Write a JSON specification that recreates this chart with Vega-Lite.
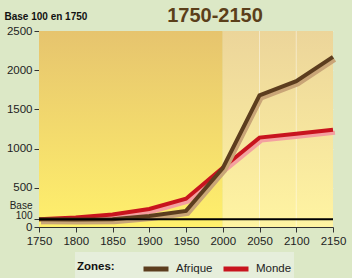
{
  "$schema": "https://vega.github.io/schema/vega-lite/v6.json",
  "width": 294,
  "height": 196,
  "autosize": "none",
  "padding": {"left": 39, "top": 31, "right": 19, "bottom": 51},
  "background": "#dce8c6",
  "config": {
    "view": {"stroke": null},
    "font": "Liberation Sans",
    "axis": {"labelFont": "Liberation Sans", "labelFontSize": 11, "labelColor": "#222222", "domainColor": "#333333", "tickColor": "#333333", "tickSize": 5, "labelOverlap": false, "labelBound": false, "labelFlush": false}
  },
  "title": {"text": "1750-2150", "fontSize": 20, "fontWeight": "bold", "color": "#5b3f1a", "anchor": "middle", "dx": 29, "dy": 20, "offset": 5, "font": "Liberation Sans"},
  "datasets": {
    "series": [
      {"year": 1750, "zone": "Afrique", "value": 100},
      {"year": 1800, "zone": "Afrique", "value": 95},
      {"year": 1850, "zone": "Afrique", "value": 100},
      {"year": 1900, "zone": "Afrique", "value": 140},
      {"year": 1950, "zone": "Afrique", "value": 205},
      {"year": 2000, "zone": "Afrique", "value": 750},
      {"year": 2050, "zone": "Afrique", "value": 1680},
      {"year": 2100, "zone": "Afrique", "value": 1860},
      {"year": 2150, "zone": "Afrique", "value": 2170},
      {"year": 1750, "zone": "Monde", "value": 100},
      {"year": 1800, "zone": "Monde", "value": 120},
      {"year": 1850, "zone": "Monde", "value": 160},
      {"year": 1900, "zone": "Monde", "value": 230},
      {"year": 1950, "zone": "Monde", "value": 360},
      {"year": 2000, "zone": "Monde", "value": 756},
      {"year": 2050, "zone": "Monde", "value": 1140},
      {"year": 2100, "zone": "Monde", "value": 1190},
      {"year": 2150, "zone": "Monde", "value": 1240}
    ]
  },
  "layer": [
    {
      "data": {"values": [{"x0": 1750, "x1": 2000, "y0": 0, "y1": 2500}]},
      "mark": {"type": "rect", "color": {"gradient": "linear", "x1": 0, "y1": 0, "x2": 0, "y2": 1, "stops": [{"offset": 0, "color": "#e6c46e"}, {"offset": 1, "color": "#fff06c"}]}},
      "encoding": {
        "x": {"field": "x0", "type": "quantitative", "scale": {"domain": [1750, 2150], "nice": false}, "axis": {"values": [1750, 1800, 1850, 1900, 1950, 2000, 2050, 2100, 2150], "tickCount": 20, "format": "d", "labelOverlap": false, "labelFlush": false, "title": null, "grid": false, "labelFontSize": 11.5, "labelPadding": 3}},
        "x2": {"field": "x1"},
        "y": {"field": "y0", "type": "quantitative", "scale": {"domain": [0, 2500], "nice": false}, "axis": {"values": [0, 100, 500, 1000, 1500, 2000, 2500], "tickCount": 20, "format": "d", "labelExpr": "datum.value == 100 ? ['Base', '100'] : datum.label", "labelOffset": {"condition": {"test": "datum.value == 100", "value": -14}, "value": 0}, "labelFontSize": {"condition": {"test": "datum.value == 100", "value": 10}, "value": 11.5}, "labelOverlap": false, "labelFlush": false, "labelLineHeight": 10, "grid": true, "gridColor": "#ffffff", "gridOpacity": 0.35, "title": "Base 100 en 1750", "titleAngle": 0, "titleAlign": "left", "titleBaseline": "middle", "titleX": -35, "titleY": -15, "titleFontSize": 10, "titleFontWeight": "bold", "titleColor": "#111111", "titleFont": "Liberation Sans"}},
        "y2": {"field": "y1"}
      }
    },
    {
      "data": {"values": [{"x0": 2000, "x1": 2150, "y0": 0, "y1": 2500}]},
      "mark": {"type": "rect", "color": {"gradient": "linear", "x1": 0, "y1": 0, "x2": 0, "y2": 1, "stops": [{"offset": 0, "color": "#ecd59a"}, {"offset": 1, "color": "#fff4a2"}]}},
      "encoding": {
        "x": {"field": "x0", "type": "quantitative"},
        "x2": {"field": "x1"},
        "y": {"field": "y0", "type": "quantitative"},
        "y2": {"field": "y1"}
      }
    },
    {
      "data": {"values": [{"year": 2050}, {"year": 2100}]},
      "mark": {"type": "rule", "color": "#ffffff", "opacity": 0.45, "strokeWidth": 1},
      "encoding": {"x": {"field": "year", "type": "quantitative"}}
    },
    {
      "data": {"name": "series"},
      "transform": [{"filter": "datum.zone == 'Monde'"}],
      "mark": {"type": "line", "color": "#f4a0a0", "strokeWidth": 4, "xOffset": 2, "yOffset": 3},
      "encoding": {"x": {"field": "year", "type": "quantitative"}, "y": {"field": "value", "type": "quantitative"}}
    },
    {
      "data": {"name": "series"},
      "transform": [{"filter": "datum.zone == 'Monde'"}],
      "mark": {"type": "line", "strokeWidth": 4},
      "encoding": {"x": {"field": "year", "type": "quantitative"}, "y": {"field": "value", "type": "quantitative"},
        "color": {"field": "zone", "type": "nominal", "scale": {"domain": ["Afrique", "Monde"], "range": ["#5c3d1e", "#c8141e"]},
          "legend": {"orient": "none", "legendX": 36, "legendY": 221, "direction": "horizontal", "title": "Zones:", "titleOrient": "left", "titleFontSize": 11.5, "titleFontWeight": "bold", "titleColor": "#111111", "titlePadding": 26, "titleBaseline": "middle", "labelFontSize": 11.5, "labelColor": "#222222", "labelOffset": 5, "symbolType": "stroke", "symbolStrokeWidth": 5, "symbolSize": 625, "columnPadding": 0, "fillColor": "#e6eedb", "padding": 2}}}
    },
    {
      "data": {"name": "series"},
      "transform": [{"filter": "datum.zone == 'Afrique'"}],
      "mark": {"type": "line", "color": "#c9a577", "strokeWidth": 4, "xOffset": 2, "yOffset": 3},
      "encoding": {"x": {"field": "year", "type": "quantitative"}, "y": {"field": "value", "type": "quantitative"}}
    },
    {
      "data": {"name": "series"},
      "transform": [{"filter": "datum.zone == 'Afrique'"}],
      "mark": {"type": "line", "strokeWidth": 4},
      "encoding": {"x": {"field": "year", "type": "quantitative"}, "y": {"field": "value", "type": "quantitative"}, "color": {"field": "zone", "type": "nominal"}}
    },
    {
      "data": {"values": [{"base": 100}]},
      "mark": {"type": "rule", "color": "#000000", "strokeWidth": 2},
      "encoding": {"y": {"field": "base", "type": "quantitative"}}
    }
  ]
}
